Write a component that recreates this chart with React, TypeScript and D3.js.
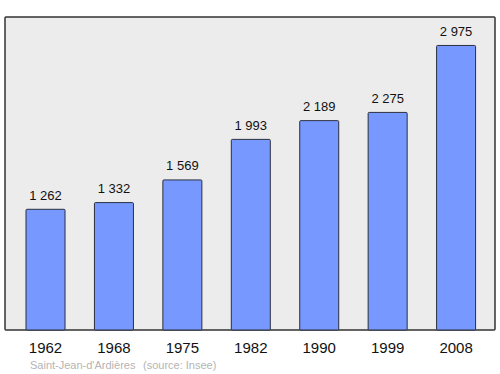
import React from "react";
import * as d3 from "d3";

const years = ["1962", "1968", "1975", "1982", "1990", "1999", "2008"];
const population = [1262, 1332, 1569, 1993, 2189, 2275, 2975];
const footerName = "Saint-Jean-d'Ardières";
const footerSource = "(source: Insee)";

const W = 500;
const H = 374;
const frame = { left: 5, top: 17, right: 495, bottom: 330 };

const fmt = (v: number) => {
  const s = String(v);
  return s.length > 3 ? s.slice(0, s.length - 3) + " " + s.slice(-3) : s;
};

export default function App() {
  const x = d3
    .scaleBand<string>()
    .domain(years)
    .range([11.3, 490.3])
    .paddingInner(0.43)
    .paddingOuter(0.215);
  const maxV = (d3.max(population) as number) * 1.1;
  const y = d3.scaleLinear().domain([0, maxV]).range([frame.bottom, frame.top]);

  return (
    <svg
      width={W}
      height={H}
      style={{ position: "absolute", left: 0, top: 0, fontFamily: "'Liberation Sans', Arial, sans-serif" }}
    >
      <rect x={0} y={0} width={W} height={H} fill="#ffffff" />
      <rect
        x={frame.left}
        y={frame.top}
        width={frame.right - frame.left}
        height={frame.bottom - frame.top}
        fill="#ececec"
        stroke="#333"
        strokeWidth={1.5}
        rx={1}
      />
      {years.map((yr, i) => {
        const bx = x(yr) as number;
        const top = y(population[i]);
        return (
          <g key={yr}>
            <rect
              x={bx}
              y={top}
              width={x.bandwidth()}
              height={frame.bottom - top}
              fill="#7799ff"
              stroke="#2b2f3f"
              strokeWidth={1}
              rx={1}
            />
            <text
              x={bx + x.bandwidth() / 2}
              y={top - 9.5}
              textAnchor="middle"
              fontSize={13}
              fill="#111"
            >
              {fmt(population[i])}
            </text>
            <text
              x={bx + x.bandwidth() / 2}
              y={352.5}
              textAnchor="middle"
              fontSize={15}
              fill="#111"
            >
              {yr}
            </text>
          </g>
        );
      })}
      <text x={30} y={368.5} fontSize={11} fill="#b4b4b4">
        {footerName}
      </text>
      <text x={143} y={368.5} fontSize={11} fill="#b4b4b4">
        {footerSource}
      </text>
    </svg>
  );
}
